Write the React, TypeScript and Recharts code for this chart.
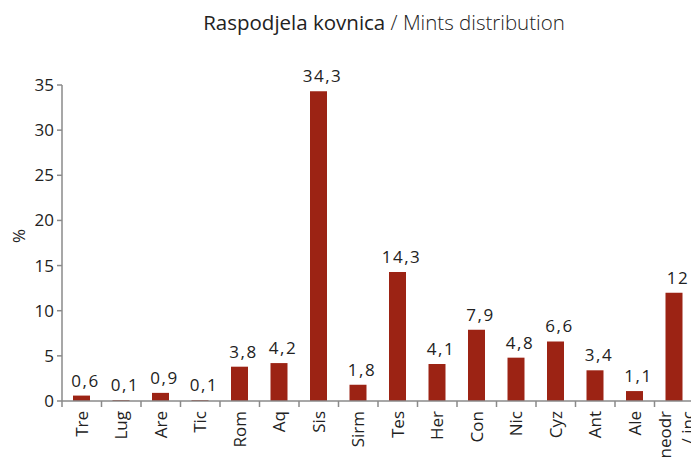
import React from 'react';
import { BarChart, Bar, XAxis, YAxis, LabelList } from 'recharts';

const mints = ['Tre', 'Lug', 'Are', 'Tic', 'Rom', 'Aq', 'Sis', 'Sirm', 'Tes', 'Her', 'Con', 'Nic', 'Cyz', 'Ant', 'Ale', 'neodr\n/ inc'];
const shares = [0.6, 0.1, 0.9, 0.1, 3.8, 4.2, 34.3, 1.8, 14.3, 4.1, 7.9, 4.8, 6.6, 3.4, 1.1, 12];
const yTicks = [0, 5, 10, 15, 20, 25, 30, 35];

const data = mints.map((mint, i) => ({ mint, share: shares[i] }));

const FONT = '"Open Sans", "Noto Sans", sans-serif';
const AXIS = '#8a8a8a';

// comma decimal, like the source
const fmt = (v: number) => String(v).replace('.', ',');

const XTick = (props: any) => {
  const { x, y, payload } = props;
  const half = payload.offset || 20;
  const lines = String(payload.value).split('\n');
  return (
    <g transform={`translate(${x},${y})`}>
      <line x1={-half} x2={-half} y1={0} y2={6} stroke={AXIS} strokeWidth={1.5} />
      <text transform="rotate(-90)" textAnchor="end" fontFamily={FONT} fontSize={17} fill="#222">
        {lines.map((l, i) => (
          <tspan key={i} x={-10} y={lines.length > 1 && i === 0 ? -3 : i === 0 ? 6 : undefined} dy={i === 0 ? 0 : 23}>
            {l}
          </tspan>
        ))}
      </text>
    </g>
  );
};

export default function App() {
  return (
    <div style={{ position: 'relative', width: 691, height: 456, overflow: 'hidden', background: '#fff' }}>
      <div
        style={{
          position: 'absolute',
          left: 0,
          width: 752,
          top: 0,
          textAlign: 'center',
          fontFamily: FONT,
          fontSize: 20.5,
          color: '#222',
          whiteSpace: 'nowrap',
        }}
      >
        <span style={{ fontWeight: 500 }}>Raspodjela kovnica</span>
        <span style={{ fontWeight: 300 }}> / Mints distribution</span>
      </div>
      <BarChart
        width={700}
        height={480}
        data={data}
        margin={{ top: 77, right: 14, left: 0, bottom: 0 }}
        barCategoryGap={0}
      >
        <XAxis
          dataKey="mint"
          interval={0}
          height={87}
          tickSize={0}
          tickMargin={0}
          stroke={AXIS}
          strokeWidth={1.5}
          tick={<XTick />}
        />
        <YAxis
          width={54}
          domain={[0, 35]}
          ticks={yTicks}
          interval={0}
          tickSize={5}
          tickMargin={3}
          stroke={AXIS}
          strokeWidth={1.5}
          tick={{ fill: '#222', fontSize: 17, fontFamily: FONT }}
          label={{ value: '%', angle: -90, position: 'insideLeft', dx: 6, fill: '#222', fontSize: 17, fontFamily: FONT }}
        />
        <Bar dataKey="share" fill="#9c2314" barSize={17} isAnimationActive={false}>
          <LabelList
            dataKey="share"
            position="top"
            offset={9}
            formatter={(v: any) => fmt(Number(v))}
            style={{ fill: '#222', fontSize: 17, fontFamily: FONT, letterSpacing: 1.5, transform: 'translateX(4px)' }}
          />
        </Bar>
      </BarChart>
    </div>
  );
}
